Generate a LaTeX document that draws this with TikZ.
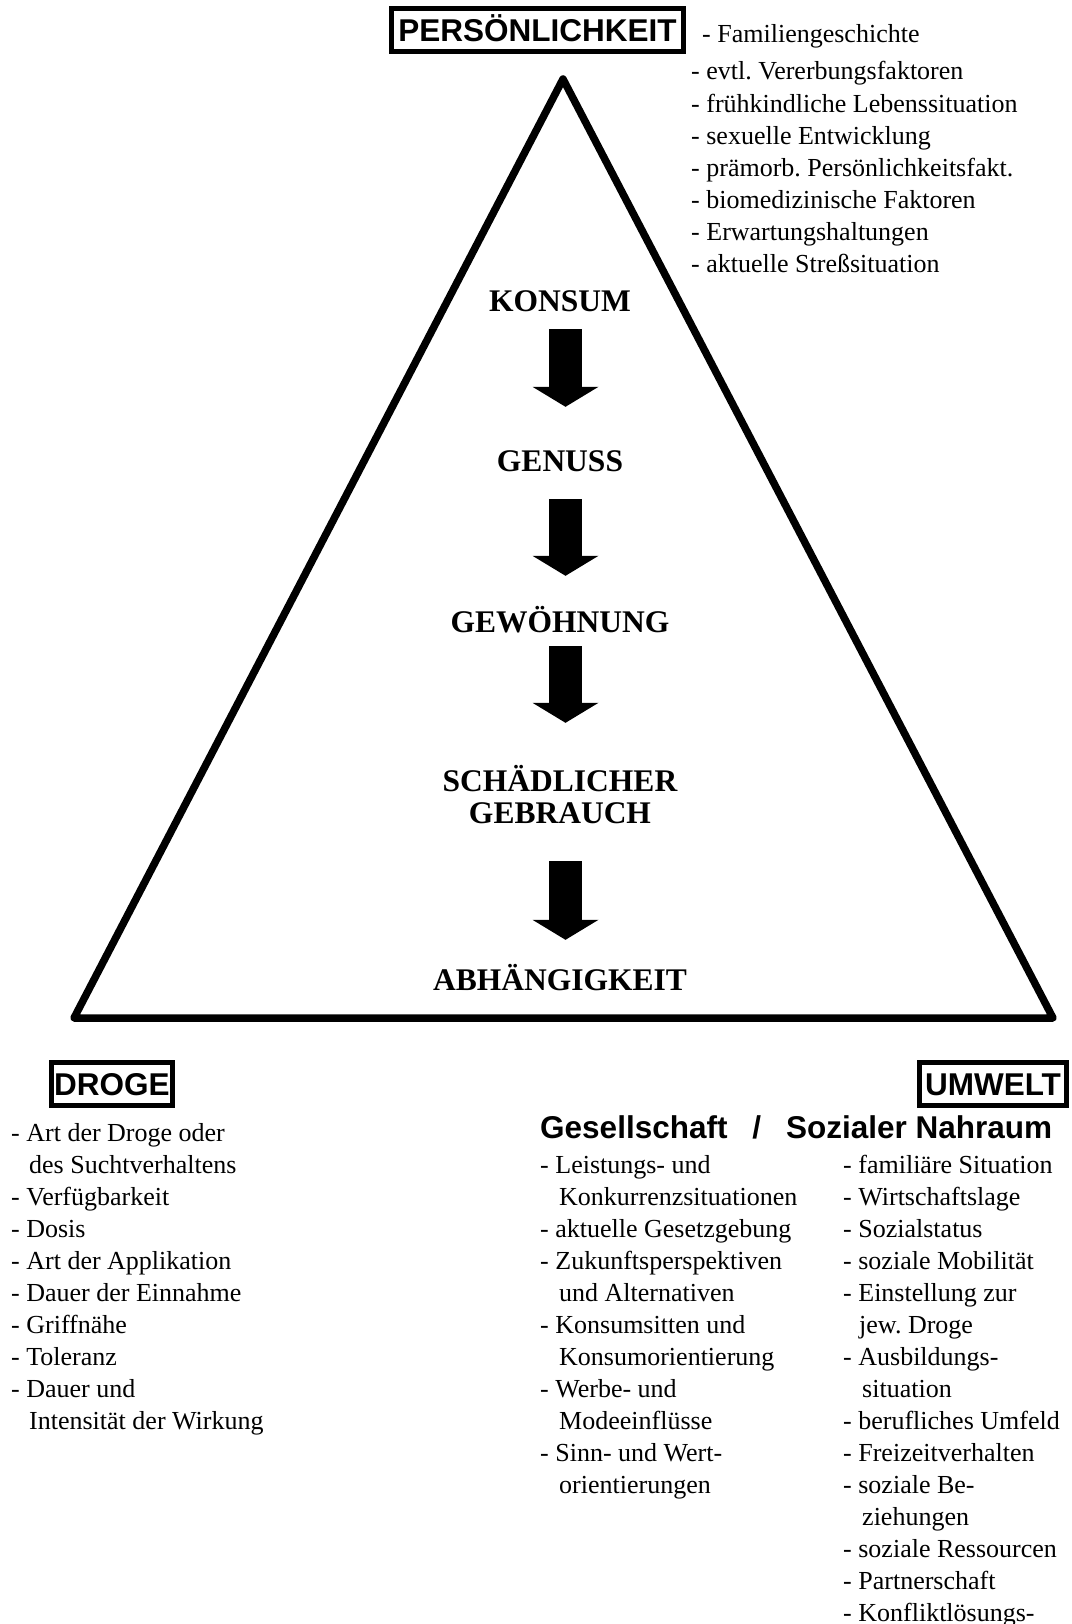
\documentclass[tikz,border=0pt]{standalone}
\usepackage{fontspec}
\setmainfont{Liberation Serif}
\newfontfamily\arialfont{Liberation Sans}
\usetikzlibrary{arrows.meta}
\frenchspacing

\newcommand\headfont{\arialfont\bfseries\fontsize{31.5bp}{36bp}\selectfont}
\newcommand\stagefont{\bfseries\fontsize{31.5bp}{33bp}\selectfont}
\newcommand\itemfont{\fontsize{26bp}{32bp}\selectfont}
\newcommand\ind{\hspace*{19bp}}

\tikzset{
  factorbox/.style={draw, line width=4.7bp, inner sep=0pt, font=\headfont,
    text height=22.6bp, text depth=0pt, minimum height=43.3bp},
  stage/.style={font=\stagefont, inner sep=0pt, anchor=base,
    text height=21bp, text depth=0pt},
  item/.style={font=\itemfont, inner sep=0pt, anchor=base west},
  blockarrow/.style={line width=33bp,
    -{Triangle[width=66bp,length=20bp,line width=0pt]}},
}

\begin{document}
\begin{tikzpicture}[x=1bp, y=-1bp]
    \useasboundingbox (0,0) rectangle (1071,1624);

    % triangle
    \draw[line width=7.5bp, line join=round] (563,79) -- (1053,1018) -- (74,1018) -- cycle;

    % the three factors
    \node[factorbox, minimum width=292.3bp] (pers) at (537.5,30) {PERSÖNLICHKEIT};
    \node[factorbox, minimum width=121.3bp] (droge) at (112,1084) {DROGE};
    \node[factorbox, minimum width=147.3bp] (umwelt) at (993,1084) {UMWELT};

    % stages inside the triangle
    \node[stage] (konsum) at (560,311) {KONSUM};
    \node[stage] (genuss) at (560,471) {GENUSS};
    \node[stage] (gewoehn) at (560,632) {GEWÖHNUNG};
    \node[stage] (schaed) at (560,791.5) {SCHÄDLICHER};
    \node[stage] (gebrauch) at (560,823) {GEBRAUCH};
    \node[stage] (abhaeng) at (560,990) {ABHÄNGIGKEIT};

    \coordinate (axis) at (565.5,0);
    \foreach \a/\b/\s/\e in {konsum/genuss/18/43, genuss/gewoehn/28/35,
                             gewoehn/schaed/14/47.5, gebrauch/abhaeng/38/29}
        \draw[blockarrow, shorten <=\s bp, shorten >=\e bp]
            (\a.south -| axis) -- (\b.north -| axis);

    % Persoenlichkeit
    \node[item] (fam) at (702,43) {- Familiengeschichte};
    \foreach \t [count=\i] in {- evtl. Vererbungsfaktoren, - frühkindliche Lebenssituation,
        - sexuelle Entwicklung, - prämorb. Persönlichkeitsfakt., - biomedizinische Faktoren,
        - Erwartungshaltungen, - aktuelle Streßsituation}
        \node[item] (pers\i) at (691,48+32*\i) {\t};

    % Droge
    \foreach \t [count=\i from 0] in {- Art der Droge oder, \hspace*{18bp}des Suchtverhaltens,
        - Verfügbarkeit, - Dosis, - Art der Applikation, - Dauer der Einnahme,
        - Griffnähe, - Toleranz, - Dauer und, \hspace*{18bp}Intensität der Wirkung}
        \node[item] (drog\i) at (11,1141+32*\i) {\t};

    % Umwelt
    \node[item, font=\headfont] (gesell) at (540,1138)
        {Gesellschaft\hspace{0.79em}/\hspace{0.79em}Sozialer Nahraum};
    \foreach \t [count=\i] in {- Leistungs- und, \ind Konkurrenzsituationen,
        - aktuelle Gesetzgebung, - Zukunftsperspektiven, \ind und Alternativen,
        - Konsumsitten und, \ind Konsumorientierung, - Werbe- und,
        \ind Modeeinflüsse, - Sinn- und Wert-, \ind orientierungen}
        \node[item] (ges\i) at (540,1141+32*\i) {\t};
    \foreach \t [count=\i] in {- familiäre Situation, - Wirtschaftslage, - Sozialstatus,
        - soziale Mobilität, - Einstellung zur, \hspace*{16bp}jew. Droge,
        - Ausbildungs-, \ind situation, - berufliches Umfeld, - Freizeitverhalten,
        - soziale Be-, \ind ziehungen, - soziale Ressourcen, - Partnerschaft,
        - Konfliktlösungs-}
        \node[item] (nah\i) at (843,1141+32*\i) {\t};
\end{tikzpicture}
\end{document}
